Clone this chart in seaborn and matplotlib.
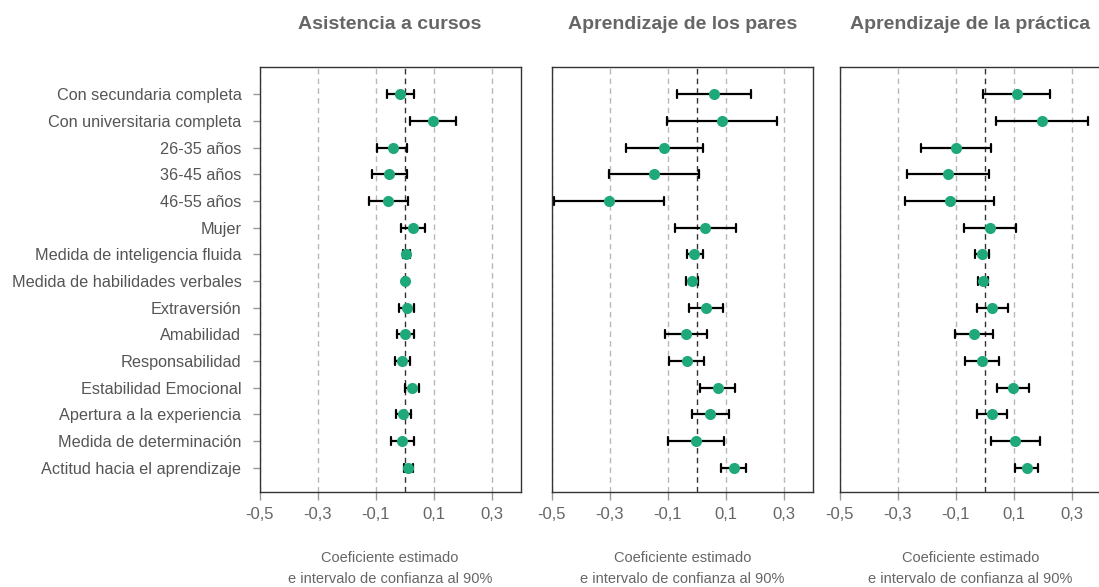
import numpy as np
import pandas as pd
import matplotlib
matplotlib.use("Agg")
import matplotlib.pyplot as plt
import seaborn as sns

# Variables (de arriba hacia abajo)
variables = [
    "Con secundaria completa", "Con universitaria completa", "26-35 años",
    "36-45 años", "46-55 años", "Mujer", "Medida de inteligencia fluida",
    "Medida de habilidades verbales", "Extraversión", "Amabilidad",
    "Responsabilidad", "Estabilidad Emocional", "Apertura a la experiencia",
    "Medida de determinación", "Actitud hacia el aprendizaje",
]

paneles = ["Asistencia a cursos", "Aprendizaje de los pares", "Aprendizaje de la práctica"]

# Asistencia a cursos
coef_cursos = [-0.014, 0.099, -0.041, -0.052, -0.057, 0.029, 0.006, 0.002,
               0.008, 0.003, -0.008, 0.025, -0.005, -0.007, 0.013]
inf_cursos = [-0.061, 0.020, -0.095, -0.113, -0.124, -0.011, -0.006, -0.002,
              -0.018, -0.025, -0.033, 0.002, -0.029, -0.047, -0.001]
sup_cursos = [0.033, 0.179, 0.010, 0.010, 0.011, 0.069, 0.020, 0.006,
              0.033, 0.032, 0.018, 0.051, 0.021, 0.034, 0.029]

# Aprendizaje de los pares
coef_pares = [0.060, 0.086, -0.113, -0.147, -0.303, 0.030, -0.008, -0.016,
              0.031, -0.037, -0.034, 0.072, 0.047, -0.003, 0.128]
inf_pares = [-0.068, -0.102, -0.243, -0.301, -0.493, -0.075, -0.034, -0.036,
             -0.026, -0.110, -0.097, 0.013, -0.015, -0.100, 0.085]
sup_pares = [0.187, 0.277, 0.020, 0.007, -0.114, 0.134, 0.020, 0.003,
             0.091, 0.036, 0.026, 0.133, 0.110, 0.095, 0.170]

# Aprendizaje de la práctica
coef_practica = [0.110, 0.199, -0.100, -0.126, -0.121, 0.018, -0.009, -0.006,
                 0.026, -0.038, -0.009, 0.098, 0.025, 0.106, 0.145]
inf_practica = [-0.005, 0.040, -0.220, -0.267, -0.276, -0.071, -0.033, -0.024,
                -0.026, -0.103, -0.069, 0.043, -0.028, 0.020, 0.106]
sup_practica = [0.224, 0.357, 0.020, 0.015, 0.033, 0.108, 0.016, 0.011,
                0.082, 0.028, 0.049, 0.152, 0.078, 0.191, 0.183]

ticks_x = [-0.5, -0.3, -0.1, 0.1, 0.3]
etiquetas_x = ["-0,5", "-0,3", "-0,1", "0,1", "0,3"]

# tabla larga: limite inferior, coeficiente y limite superior por variable
series = {
    paneles[0]: (inf_cursos, coef_cursos, sup_cursos),
    paneles[1]: (inf_pares, coef_pares, sup_pares),
    paneles[2]: (inf_practica, coef_practica, sup_practica),
}
filas = []
for panel, (inf, coef, sup) in series.items():
    for i, var in enumerate(variables):
        for v in (inf[i], coef[i], sup[i]):
            filas.append({"panel": panel, "variable": var, "valor": v})
df = pd.DataFrame(filas)

sns.set_theme(style="white")
plt.rcParams["font.family"] = ["Liberation Sans", "DejaVu Sans"]

verde = "#1fa97a"
gris_texto = "#666666"

fig = plt.figure(figsize=(10.99, 5.87), dpi=100)
lefts = [259.5, 551.7, 839.7]

for i, panel in enumerate(paneles):
    ax = fig.add_axes([lefts[i] / 1099, 0.1624, 0.2375, 0.7240])
    sub = df[df["panel"] == panel]

    # la mediana de (inf, coef, sup) es el coeficiente; el intervalo va de min a max
    sns.pointplot(data=sub, x="valor", y="variable", order=variables, orient="y",
                  estimator="median", errorbar=lambda v: (v.min(), v.max()),
                  capsize=0.3, linestyle="none", color=verde,
                  markersize=8, markeredgewidth=0, zorder=3,
                  err_kws={"color": "black", "linewidth": 1.6, "zorder": 2},
                  ax=ax)

    ax.set_xlim(-0.5, 0.4)
    ax.set_ylim(14.9, -1.03)
    ax.set_xticks(ticks_x)
    ax.set_xticklabels(etiquetas_x)

    ax.grid(axis="x", color="#b8b8b8", linestyle=(0, (4, 3)), linewidth=1)
    ax.axvline(0, color="#333333", linestyle=(0, (4, 3)), linewidth=1, zorder=1)
    ax.set_axisbelow(True)

    for s in ax.spines.values():
        s.set_color("#333333")
        s.set_linewidth(1)

    ax.tick_params(axis="x", bottom=True, length=6, width=1, color="#999999",
                   labelcolor=gris_texto, labelsize=12, pad=5)
    if i == 0:
        ax.tick_params(axis="y", left=True, length=5, width=1, color="#999999",
                       labelcolor="#555555", labelsize=11.7, pad=8)
    else:
        ax.tick_params(axis="y", left=False, labelleft=False)
    ax.set_ylabel("")
    ax.set_xlabel("Coeficiente estimado\ne intervalo de confianza al 90%",
                  color=gris_texto, fontsize=10.5, labelpad=21, linespacing=1.6)
    ax.set_title(panel, color=gris_texto, fontsize=14, fontweight="bold", pad=27)

fig.savefig("out.png", dpi=100)
